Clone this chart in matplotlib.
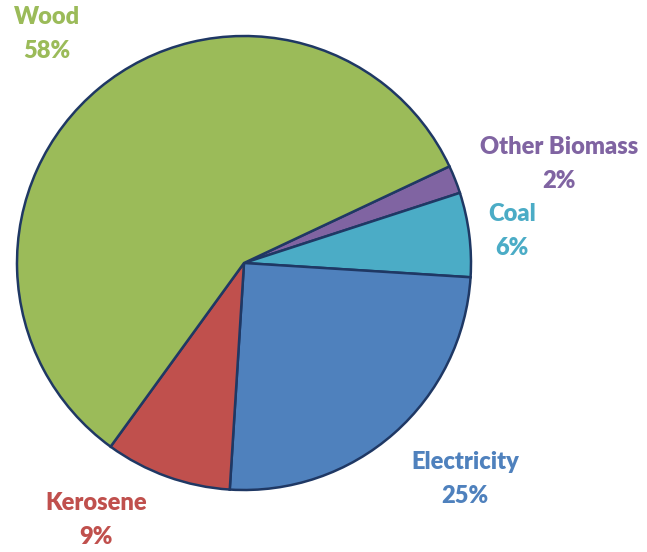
import matplotlib.pyplot as plt

# Household energy sources, share of total (%)
labels = ["Other Biomass", "Coal", "Electricity", "Kerosene", "Wood"]
shares = [2, 6, 25, 9, 58]
colors = ["#8064A2", "#4BACC6", "#4F81BD", "#C0504D", "#9BBB59"]

W, H = 647, 552
fig = plt.figure(figsize=(W / 100, H / 100), dpi=100)
ax = fig.add_axes([0, 0, 1, 1])

ax.pie(shares, colors=colors, startangle=25.2, counterclock=False,
       center=(244, H - 263), radius=227,
       wedgeprops=dict(edgecolor="#1F3864", linewidth=1.8))

# pie() resets the limits, so set the pixel frame afterwards
ax.set_xlim(0, W)
ax.set_ylim(0, H)
ax.set_aspect("equal")
ax.axis("off")

# label anchor points (pixel coordinates, y measured from top)
label_pos = {
    "Other Biomass": (559, 164),
    "Coal": (512, 231),
    "Electricity": (465, 479),
    "Kerosene": (96, 520),
    "Wood": (47, 34),
}
for name, val, col in zip(labels, shares, colors):
    x, y = label_pos[name]
    ax.text(x, H - y, f"{name}\n{val}%", color=col, ha="center", va="center",
            fontsize=17, fontweight="heavy", family="Lato", linespacing=1.62)

fig.savefig("out.png", dpi=100, facecolor="white")
